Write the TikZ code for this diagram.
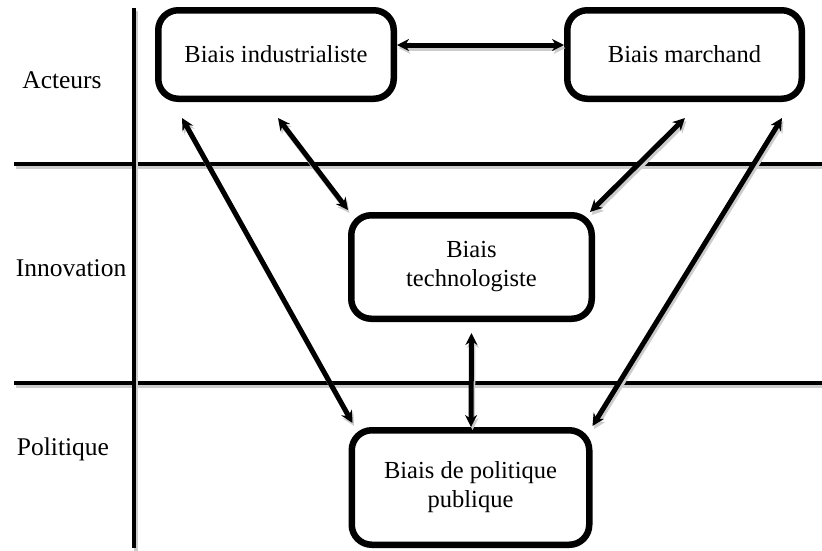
\documentclass[tikz,border=0pt]{standalone}
\usepackage{fontspec}
\setmainfont{Liberation Serif}
\usetikzlibrary{arrows.meta,calc,shadows}
\begin{document}
\begin{tikzpicture}[x=1pt,y=-1pt,
  biasbox/.style={draw=black, line width=6.5pt, rounded corners=20pt, fill=white,
    align=center, font=\fontsize{24.5}{29}\selectfont,
    drop shadow={fill=black!30, opacity=0.6, shadow xshift=1.5pt, shadow yshift=-3pt}},
  sep/.style={line width=4pt, preaction={draw=black!20, line width=4pt, transform canvas={xshift=1.5pt,yshift=-3pt}}},
  link/.style={line width=5pt, {Stealth[length=12pt,width=12pt]}-{Stealth[length=12pt,width=12pt]},
    preaction={draw=black!20, line width=5pt, transform canvas={xshift=1.5pt,yshift=-3pt}}},
  rowlabel/.style={font=\fontsize{25.5}{29}\selectfont}]
\useasboundingbox (0,0) rectangle (822,550);
% separators
\coordinate (h1l) at (14,164);
\coordinate (h1r) at (822,164);
\coordinate (h2l) at (14,383);
\coordinate (h2r) at (822,383);
\coordinate (vt) at (134,8);
\coordinate (vb) at (134,548);
\draw[sep] (h1l) -- (h1r);
\draw[sep] (h2l) -- (h2r);
\draw[sep] (vt) -- (vb);
% row labels
\node[rowlabel] (lact) at (62,80) {Acteurs};
\node[rowlabel] (linn) at (71,268) {Innovation};
\node[rowlabel] (lpol) at (63,449) {Politique};
% boxes
\node[biasbox, minimum width=235.5pt, minimum height=88.5pt] (ind) at (276,54.5) {Biais industrialiste};
\node[biasbox, minimum width=234.5pt, minimum height=88.5pt] (mar) at (684.5,54.5) {Biais marchand};
\node[biasbox, minimum width=240.5pt, minimum height=103.5pt] (tech) at (471.5,267) {Biais\\technologiste};
\node[biasbox, minimum width=237.5pt, minimum height=114.5pt] (pol) at (470.5,487.5) {Biais de politique\\publique};
% connectors
\draw[link] ($(ind.east)+(0,-9.5)$) -- ($(mar.west)+(0,-9.5)$);
\draw[link] ($(ind.south west)+(27,16)$) -- ($(pol.north west)+(4,-4)$);
\draw[link] ($(ind.south)+(2,16)$) -- ($(tech.north west)+(0,-2)$);
\draw[link] ($(mar.south)+(0.5,16)$) -- ($(tech.north east)+(-5,0)$);
\draw[link] ($(mar.south east)+(-23,16)$) -- ($(pol.north east)+(0,-1)$);
\draw[link] ($(tech.south)+(0,11)$) -- ($(pol.north)+(0.5,0)$);
\end{tikzpicture}
\end{document}
